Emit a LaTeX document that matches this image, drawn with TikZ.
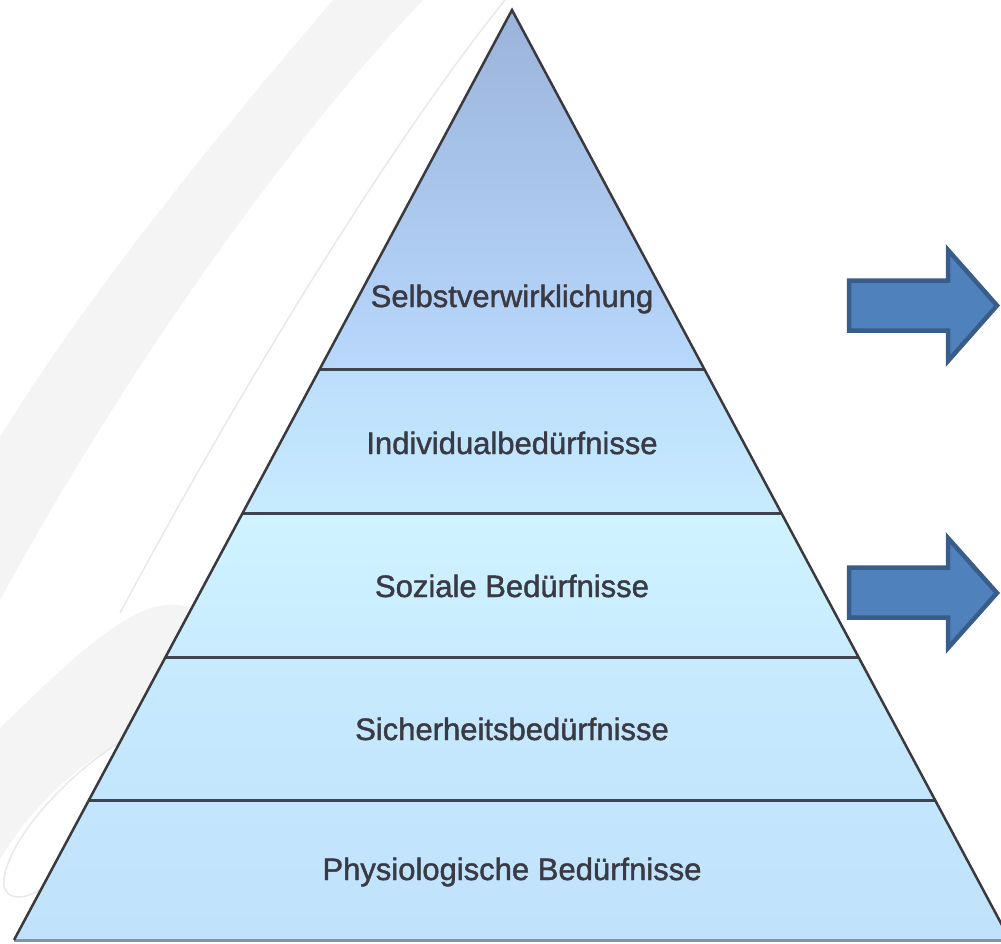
\documentclass[tikz,border=0pt]{standalone}
\usepackage{fontspec}
\setmainfont{Liberation Sans}
\newfontfamily\labfont[FakeBold=1.4]{Liberation Sans}
\definecolor{swoosh}{RGB}{244,244,244}
\definecolor{swline}{RGB}{232,232,232}
\definecolor{outline}{RGB}{58,58,62}
\definecolor{sepline}{RGB}{62,68,80}
\definecolor{baseline}{RGB}{128,148,176}
\definecolor{txt}{RGB}{58,58,68}
\definecolor{arrfill}{RGB}{79,129,189}
\definecolor{arrline}{RGB}{56,93,138}
\definecolor{la}{RGB}{155,179,218}
\definecolor{lb}{RGB}{184,216,252}
\definecolor{lc}{RGB}{188,222,253}
\definecolor{ld}{RGB}{199,235,254}
\definecolor{le}{RGB}{207,243,255}
\definecolor{lf}{RGB}{200,236,254}
\definecolor{lg}{RGB}{199,234,254}
\definecolor{lh}{RGB}{195,230,253}
\definecolor{li}{RGB}{195,229,253}
\definecolor{lj}{RGB}{192,226,252}
\tikzset{
  label/.style={font=\labfont\fontsize{31}{36}\selectfont, text=txt, anchor=base, inner sep=0pt},
  sep/.style={draw=sepline, line width=3pt},
  bigarrow/.style={fill=arrfill, draw=arrline, line width=4.5pt, line join=miter},
}
\begin{document}
\begin{tikzpicture}[x=1pt,y=-1pt]
\useasboundingbox (0,0) rectangle (1001,943);
\clip (0,0) rectangle (1001,943);
% background swooshes
\fill[swoosh] (333,0) .. controls (230,120) and (90,290) .. (0,437)
  -- (0,600) .. controls (120,380) and (280,150) .. (423,0) -- cycle;
\draw[swline, line width=1.5pt] (505,0) .. controls (400,130) and (250,370) .. (120,613);
\fill[swoosh] (0,728) .. controls (60,670) and (120,610) .. (165,605)
  .. controls (190,603) and (205,612) .. (215,625) -- (120,742)
  .. controls (70,770) and (25,815) .. (0,860) -- cycle;
\draw[swline, line width=1.5pt] (120,742) .. controls (60,780) and (10,840) .. (4,878)
  .. controls (0,905) and (35,905) .. (66,866);
% pyramid layers
\shade[top color=la, bottom color=lb] (512,10) -- (704.2,369) -- (319.8,369) -- cycle;
\shade[top color=lc, bottom color=ld] (319.8,369) -- (704.2,369) -- (781.4,513) -- (242.6,513) -- cycle;
\shade[top color=le, bottom color=lf] (242.6,513) -- (781.4,513) -- (858.5,657) -- (165.5,657) -- cycle;
\shade[top color=lg, bottom color=lh] (165.5,657) -- (858.5,657) -- (935,800) -- (89,800) -- cycle;
\shade[top color=li, bottom color=lj] (89,800) -- (935,800) -- (1010,940) -- (14,940) -- cycle;
% separators
\draw[sep] (319.8,369) -- (704.2,369);
\draw[sep] (242.6,513) -- (781.4,513);
\draw[sep] (165.5,657) -- (858.5,657);
\draw[sep] (89,800) -- (935,800);
\draw[draw=baseline, line width=2.5pt] (14,940.5) -- (1010,940.5);
\draw[outline, line width=2.5pt, line join=miter] (14,940) -- (512,10) -- (1010,940);
% labels
\node[label] (l1) at (512,307) {Selbstverwirklichung};
\node[label] (l2) at (512,454) {Individualbedürfnisse};
\node[label] (l3) at (512,597) {Soziale Bedürfnisse};
\node[label] (l4) at (512,740) {Sicherheitsbedürfnisse};
\node[label] (l5) at (512,880) {Physiologische Bedürfnisse};
% arrows
\draw[bigarrow] (849,280.5) -- (948,280.5) -- (948,250) -- (997,305.5) -- (948,361) -- (948,330.5) -- (849,330.5) -- cycle;
\draw[bigarrow] (849,567.5) -- (948,567.5) -- (948,538) -- (997,593) -- (948,648) -- (948,617.5) -- (849,617.5) -- cycle;
\end{tikzpicture}
\end{document}
